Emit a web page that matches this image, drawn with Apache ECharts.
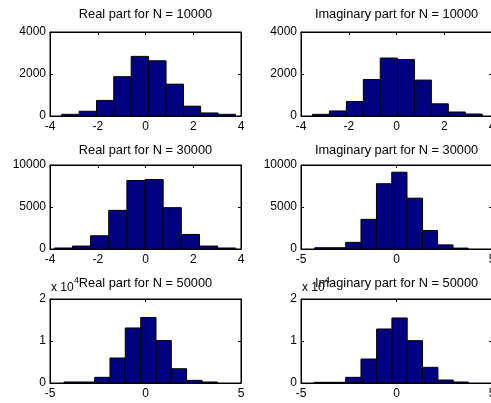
<!DOCTYPE html>
<html>
<head>
<meta charset="utf-8">
<script src="https://cdn.jsdelivr.net/npm/echarts@6/dist/echarts.min.js"></script>
<style>
html,body{margin:0;padding:0;background:#fff;}
#chart{width:491px;height:403px;}
</style>
</head>
<body>
<div id="chart"></div>
<script>
// Panel titles
const titles = [
  'Real part for N = 10000', 'Imaginary part for N = 10000',
  'Real part for N = 30000', 'Imaginary part for N = 30000',
  'Real part for N = 50000', 'Imaginary part for N = 50000'
];
// Bin edges (11 per panel) and counts (10 per panel)
const realEdges10k = [-3.51, -2.78, -2.05, -1.33, -0.60, 0.13, 0.86, 1.59, 2.31, 3.04, 3.77];
const realCounts10k = [80, 226, 742, 1871, 2839, 2629, 1516, 468, 145, 80];
const imagEdges10k = [-3.52, -2.81, -2.10, -1.39, -0.68, 0.04, 0.75, 1.46, 2.17, 2.88, 3.59];
const imagCounts10k = [80, 240, 690, 1740, 2760, 2690, 1710, 580, 190, 95];
const realEdges30k = [-3.82, -3.06, -2.30, -1.54, -0.78, -0.02, 0.74, 1.50, 2.26, 3.02, 3.78];
const realCounts30k = [120, 350, 1575, 4600, 8150, 8270, 4920, 1730, 350, 120];
const imagEdges30k = [-4.28, -3.48, -2.66, -1.86, -1.05, -0.25, 0.55, 1.36, 2.15, 2.96, 3.75];
const imagCounts30k = [150, 150, 790, 3530, 7770, 9140, 6050, 2200, 490, 110];
const realEdges50k = [-4.27, -3.47, -2.66, -1.86, -1.06, -0.25, 0.55, 1.35, 2.15, 2.96, 3.76];
const realCounts50k = [240, 240, 1350, 5950, 13100, 15600, 10100, 3400, 630, 240];
const imagEdges50k = [-4.30, -3.48, -2.66, -1.86, -1.04, -0.24, 0.56, 1.36, 2.17, 2.97, 3.76];
const imagCounts50k = [160, 160, 1350, 5710, 12860, 15480, 10080, 3730, 710, 240];
// Axis ranges [min, max, interval]
const xRanges = [[-4, 4, 2], [-4, 4, 2], [-4, 4, 2], [-5, 5, 5], [-5, 5, 5], [-5, 5, 5]];
const yRanges = [[0, 4000, 2000], [0, 4000, 2000], [0, 10000, 5000], [0, 10000, 5000], [0, 20000, 10000], [0, 20000, 10000]];
const yScaleDiv = [1, 1, 1, 1, 10000, 10000];

const edgesList = [realEdges10k, imagEdges10k, realEdges30k, imagEdges30k, realEdges50k, imagEdges50k];
const countsList = [realCounts10k, imagCounts10k, realCounts30k, imagCounts30k, realCounts50k, imagCounts50k];

const FONT = '"Liberation Sans", Arial, sans-serif';
const lefts = [50, 301];
const tops = [32, 165, 299];
const W = 191, H = 84;

const grids = [], xAxes = [], yAxes = [], series = [], graphics = [];
for (let i = 0; i < 6; i++) {
  const col = i % 2, row = Math.floor(i / 2);
  grids.push({left: lefts[col], top: tops[row], width: W, height: H,
    show: true, borderColor: '#000', borderWidth: 1, backgroundColor: '#fff',
    outerBoundsMode: 'none'});
  const xr = xRanges[i], yr = yRanges[i], div = yScaleDiv[i];
  const axLine = {show: true, onZero: false, lineStyle: {color: '#000', width: 1}};
  const axTick = {show: true, inside: true, length: 3, lineStyle: {color: '#000'}};
  xAxes.push({type: 'value', gridIndex: i, position: 'bottom', min: xr[0], max: xr[1], interval: xr[2],
    axisLine: axLine, axisTick: axTick, splitLine: {show: false},
    axisLabel: {color: '#000', fontSize: 12, fontFamily: FONT, margin: 5, showMinLabel: true, showMaxLabel: true, hideOverlap: false}});
  xAxes.push({type: 'value', gridIndex: i, position: 'top', min: xr[0], max: xr[1], interval: xr[2],
    axisLine: axLine, axisTick: axTick, splitLine: {show: false}, axisLabel: {show: false}});
  yAxes.push({type: 'value', gridIndex: i, position: 'left', min: yr[0], max: yr[1], interval: yr[2],
    axisLine: axLine, axisTick: axTick, splitLine: {show: false},
    axisLabel: {color: '#000', fontSize: 12, fontFamily: FONT, margin: 4,
      formatter: (v) => String(v / div)}});
  yAxes.push({type: 'value', gridIndex: i, position: 'right', min: yr[0], max: yr[1], interval: yr[2],
    axisLine: axLine, axisTick: axTick, splitLine: {show: false}, axisLabel: {show: false}});
  const edges = edgesList[i], counts = countsList[i];
  const data = counts.map((c, k) => [edges[k], edges[k + 1], c]);
  series.push({
    type: 'custom', xAxisIndex: 2 * i, yAxisIndex: 2 * i, data: data,
    encode: {x: [0, 1], y: 2},
    renderItem: function (params, api) {
      const p0 = api.coord([api.value(0), api.value(2)]);
      const p1 = api.coord([api.value(1), 0]);
      return {type: 'rect',
        shape: {x: p0[0], y: p0[1], width: p1[0] - p0[0], height: p1[1] - p0[1]},
        style: {fill: '#000080', stroke: '#000', lineWidth: 1}};
    }
  });
}
const titleY = [14, 150, 283];
for (let i = 0; i < 6; i++) {
  const col = i % 2, row = Math.floor(i / 2);
  graphics.push({type: 'text', x: lefts[col] + W / 2, y: titleY[row], z: 10,
    style: {text: titles[i], align: 'center', verticalAlign: 'middle', fill: '#000', font: '12.8px ' + FONT}});
}
for (let col = 0; col < 2; col++) {
  graphics.push({type: 'text', x: lefts[col] + 1, y: 288, z: 9,
    style: {text: 'x 10', align: 'left', verticalAlign: 'middle', fill: '#000', font: '12px ' + FONT}});
  graphics.push({type: 'text', x: lefts[col] + 24, y: 281, z: 9,
    style: {text: '4', align: 'left', verticalAlign: 'middle', fill: '#000', font: '9px ' + FONT}});
}

const chart = echarts.init(document.getElementById('chart'));
chart.setOption({
  animation: false,
  backgroundColor: '#fff',
  grid: grids, xAxis: xAxes, yAxis: yAxes, series: series, graphic: graphics
});
</script>
</body>
</html>
